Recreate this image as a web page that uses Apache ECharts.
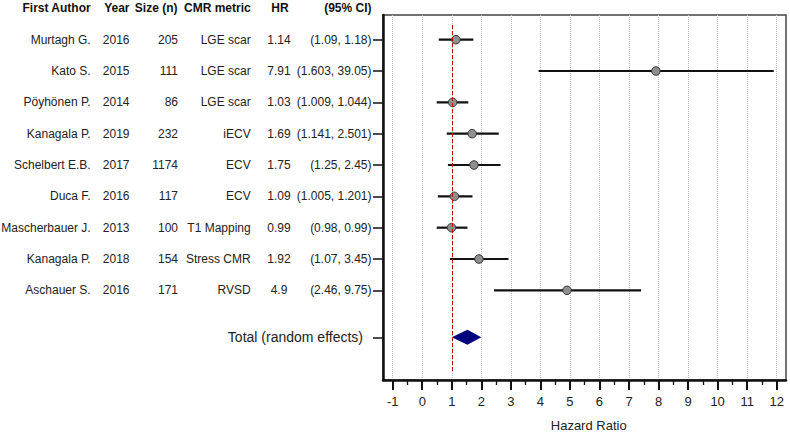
<!DOCTYPE html>
<html><head><meta charset="utf-8">
<script src="https://cdn.jsdelivr.net/npm/echarts@6/dist/echarts.min.js"></script>
<style>html,body{margin:0;padding:0;background:#fff}#c{width:790px;height:435px}</style>
</head><body><div id="c"></div>
<script>
// ---- data ----
const headers = ['First Author', 'Year', 'Size (n)', 'CMR metric', 'HR', '(95% CI)'];
const authors = ['Murtagh G.', 'Kato S.', 'Pöyhönen P.', 'Kanagala P.', 'Schelbert E.B.', 'Duca F.', 'Mascherbauer J.', 'Kanagala P.', 'Aschauer S.'];
const years = ['2016', '2015', '2014', '2019', '2017', '2016', '2013', '2018', '2016'];
const sizes = ['205', '111', '86', '232', '1174', '117', '100', '154', '171'];
const metrics = ['LGE scar', 'LGE scar', 'LGE scar', 'iECV', 'ECV', 'ECV', 'T1 Mapping', 'Stress CMR', 'RVSD'];
const hrText = ['1.14', '7.91', '1.03', '1.69', '1.75', '1.09', '0.99', '1.92', '4.9'];
const ciText = ['(1.09, 1.18)', '(1.603, 39.05)', '(1.009, 1.044)', '(1.141, 2.501)', '(1.25, 2.45)', '(1.005, 1.201)', '(0.98, 0.99)', '(1.07, 3.45)', '(2.46, 9.75)'];
const hrValues = [1.14, 7.91, 1.03, 1.69, 1.75, 1.09, 0.99, 1.92, 4.9];
const lineLow = [0.56, 3.94, 0.49, 0.83, 0.87, 0.53, 0.49, 0.94, 2.43];
const lineHigh = [1.73, 11.90, 1.56, 2.59, 2.65, 1.70, 1.53, 2.92, 7.41];
const rowPos = [1, 2, 3, 4, 5, 6, 7, 8, 9];
const totalLabel = 'Total (random effects)';
const totalPos = 10.5;
const totalLow = 1.0, totalEst = 1.53, totalHigh = 2.0;
const refValue = 1;
const axisTitle = 'Hazard Ratio';

// ---- chart ----
const FONT = '"Liberation Sans", Arial, sans-serif';
const chart = echarts.init(document.getElementById('c'), null, {renderer: 'svg'});
const Y_MIN = 0.212, Y_MAX = 11.862;

const option = {
  animation: false,
  grid: [
    {left: 392.7, top: 15, width: 384, height: 365, show: false, containLabel: false, outerBoundsMode: 'none'},
    {left: 383, top: 15, width: 403, height: 365, show: true, borderColor: '#444', borderWidth: 1.5, backgroundColor: 'transparent', containLabel: false, outerBoundsMode: 'none'}
  ],
  xAxis: [
    {gridIndex: 0, type: 'value', min: -1, max: 12, interval: 1,
     axisLine: {show: false, onZero: false},
     axisTick: {show: true, length: 10, lineStyle: {color: '#111', width: 2}},
     minorTick: {show: true, splitNumber: 2, length: 5, lineStyle: {color: '#111', width: 1.3}},
     axisLabel: {fontSize: 13, color: '#222', margin: 15, fontFamily: FONT},
     splitLine: {show: true, lineStyle: {color: '#c0c0c0', type: 'dotted', width: 1}},
     name: axisTitle, nameLocation: 'middle', nameGap: 39,
     nameTextStyle: {fontSize: 13, color: '#222', fontFamily: FONT, padding: [0, 0, 0, 8]}},
    {gridIndex: 1, type: 'value', min: 0, max: 1,
     axisLine: {show: true, onZero: false, lineStyle: {color: '#111', width: 2.5}},
     axisTick: {show: false}, axisLabel: {show: false}, splitLine: {show: false}}
  ],
  yAxis: [
    {gridIndex: 0, type: 'value', min: Y_MIN, max: Y_MAX, inverse: true, show: false},
    {gridIndex: 1, type: 'value', min: Y_MIN, max: Y_MAX, inverse: true,
     axisLine: {show: true, onZero: false, lineStyle: {color: '#111', width: 2.5}},
     axisTick: {show: true, length: 10, customValues: rowPos.concat([totalPos]), lineStyle: {color: '#111', width: 1.5}},
     axisLabel: {show: false}, splitLine: {show: false}}
  ],
  series: [
    {type: 'line', xAxisIndex: 0, yAxisIndex: 0, data: [], z: 1,
     markLine: {silent: true, symbol: 'none', label: {show: false},
       lineStyle: {color: '#b01010', type: [4, 2], width: 1},
       data: [[{coord: [refValue, 0.53]}, {coord: [refValue, 11.6]}]]}},
    {type: 'custom', xAxisIndex: 0, yAxisIndex: 0, z: 2,
     data: rowPos.map((p, i) => [lineLow[i], lineHigh[i], p]),
     encode: {x: [0, 1], y: 2},
     renderItem: (params, api) => {
       const a = api.coord([api.value(0), api.value(2)]);
       const b = api.coord([api.value(1), api.value(2)]);
       return {type: 'line', shape: {x1: a[0], y1: a[1], x2: b[0], y2: b[1]}, style: {stroke: '#111', lineWidth: 2.2}};
     }},
    {type: 'scatter', xAxisIndex: 0, yAxisIndex: 0, z: 3,
     data: rowPos.map((p, i) => [hrValues[i], p]),
     symbol: 'circle', symbolSize: 8.5,
     itemStyle: {color: '#8f8f8f', borderColor: '#333', borderWidth: 1, opacity: 1}},
    {type: 'custom', xAxisIndex: 0, yAxisIndex: 0, z: 3,
     data: [[totalLow, totalEst, totalHigh, totalPos]],
     encode: {x: [0, 2], y: 3},
     renderItem: (params, api) => {
       const l = api.coord([api.value(0), api.value(3)]);
       const c = api.coord([api.value(1), api.value(3)]);
       const r = api.coord([api.value(2), api.value(3)]);
       const h = 7.5;
       return {type: 'polygon', shape: {points: [[l[0], l[1]], [c[0], c[1] - h], [r[0], r[1]], [c[0], c[1] + h]]}, style: {fill: '#00007f'}};
     }}
  ]
};
chart.setOption(option);

// table text placed at the row positions of the y scale
const yPix = p => chart.convertToPixel({yAxisIndex: 0}, p);
const colX = [90.7, 129.5, 178, 250.7, 279, 371.5];
const colAlign = ['right', 'right', 'right', 'right', 'center', 'right'];
const columns = [authors, years, sizes, metrics, hrText, ciText];
const g = [];
headers.forEach((h, j) => {
  g.push({type: 'text', silent: true, style: {text: h, x: j === 4 ? 280 : colX[j] + (j === 2 ? -0.5 : 0), y: 8, align: colAlign[j], verticalAlign: 'middle',
    font: 'bold 12px ' + FONT, fill: '#111'}});
});
columns.forEach((col, j) => {
  col.forEach((t, i) => {
    g.push({type: 'text', silent: true, style: {text: t, x: colX[j], y: yPix(rowPos[i]), align: colAlign[j], verticalAlign: 'middle',
      font: '12px ' + FONT, fill: '#222'}});
  });
});
g.push({type: 'text', silent: true, style: {text: totalLabel, x: 363, y: yPix(totalPos) - 0.5, align: 'right', verticalAlign: 'middle',
  font: '14px ' + FONT, fill: '#222'}});
chart.setOption({graphic: g});
</script></body></html>
